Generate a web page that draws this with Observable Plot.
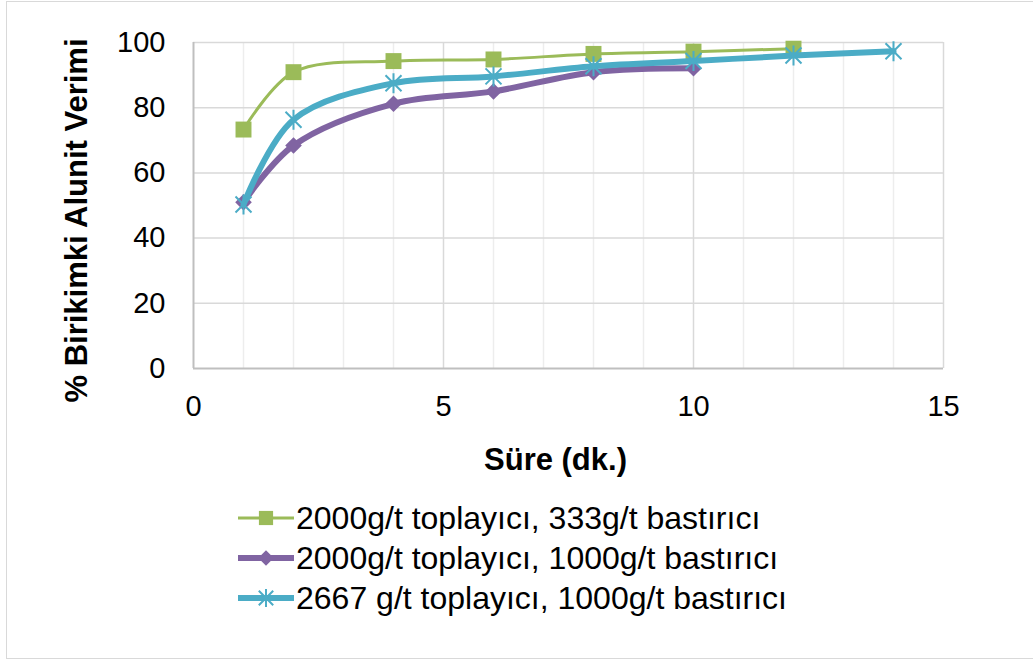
<!DOCTYPE html>
<html>
<head>
<meta charset="utf-8">
<script src="https://cdn.jsdelivr.net/npm/d3@7"></script>
<script src="https://cdn.jsdelivr.net/npm/@observablehq/plot@0.6"></script>
<style>
  html, body { margin: 0; padding: 0; background: #fff; }
  body { width: 1033px; height: 663px; position: relative; overflow: hidden; font-family: "Liberation Sans", Arial, sans-serif; }
  #frame { position: absolute; left: 6px; top: 1px; width: 1040px; height: 658px; border: 1.5px solid #d9d9d9; box-sizing: border-box; }
  #chart { position: absolute; left: 0; top: 0; }
  #legend { position: absolute; left: 238px; top: 498px; }
  .row { display: flex; align-items: center; height: 40px; white-space: nowrap; }
  .row svg { flex: none; }
  .row span { font-size: 32px; color: #000; margin-left: 2px; line-height: 1; }
</style>
</head>
<body>
<div id="frame"></div>
<div id="chart"></div>
<div id="legend"></div>
<script>
// ---- data ----
const timeA = [1, 2, 4, 6, 8, 10, 12];
const valuesA = [73.3, 90.9, 94.3, 94.8, 96.5, 97.2, 98.1];
const timeB = [1, 2, 4, 6, 8, 10];
const valuesB = [51.0, 68.4, 81.2, 85.0, 90.9, 92.1];
const timeC = [1, 2, 4, 6, 8, 10, 12, 14];
const valuesC = [50.3, 76.3, 87.5, 89.6, 92.7, 94.3, 96.0, 97.3];
const seriesNames = [
  "2000g/t toplayıcı, 333g/t bastırıcı",
  "2000g/t toplayıcı, 1000g/t bastırıcı",
  "2667 g/t toplayıcı, 1000g/t bastırıcı"
];
const xTicks = [0, 5, 10, 15];
const xMinor = [1, 2, 3, 4, 6, 7, 8, 9, 11, 12, 13, 14];
const yTicks = [0, 20, 40, 60, 80, 100];
const xTitle = "Süre (dk.)";
const yTitle = "% Birikimki Alunit Verimi";
const colors = ["#9BBB59", "#8064A2", "#4BACC6"];

const A = timeA.map((t, i) => ({t, v: valuesA[i]}));
const B = timeB.map((t, i) => ({t, v: valuesB[i]}));
const C = timeC.map((t, i) => ({t, v: valuesC[i]}));

// Excel-style star marker: an X plus a vertical bar
const excelStar = {
  draw(context, size) {
    const r = Math.sqrt(size / Math.PI);
    const d = r * 0.8;
    context.moveTo(0, -r); context.lineTo(0, r);
    context.moveTo(-d, -d); context.lineTo(d, d);
    context.moveTo(-d, d); context.lineTo(d, -d);
  }
};

const plot = Plot.plot({
  width: 1033,
  height: 490,
  marginLeft: 193,
  marginRight: 90,
  marginTop: 42,
  marginBottom: 122,
  style: {fontFamily: "'Liberation Sans', Arial, sans-serif", background: "transparent"},
  x: {domain: [0, 15], ticks: xTicks, label: null},
  y: {domain: [0, 100], ticks: yTicks, label: null},
  marks: [
    Plot.ruleX(xMinor, {stroke: "#ededed", strokeWidth: 1.5}),
    Plot.ruleX(xTicks.slice(1), {stroke: "#d9d9d9", strokeWidth: 1.5}),
    Plot.ruleY(yTicks.slice(1), {stroke: "#d9d9d9", strokeWidth: 1.5}),
    Plot.ruleX([0], {stroke: "#bfbfbf", strokeWidth: 2}),
    Plot.ruleY([0], {stroke: "#bfbfbf", strokeWidth: 2}),
    Plot.axisX({ticks: xTicks, tickSize: 0, tickPadding: 27, fontSize: 29, label: null, fill: "#000"}),
    Plot.axisY({ticks: yTicks, tickSize: 0, tickPadding: 28, fontSize: 29, label: null, fill: "#000"}),
    Plot.text([xTitle], {text: d => d, frameAnchor: "bottom", dy: 92, dx: -13, lineAnchor: "middle", textAnchor: "middle", fontSize: 31, fontWeight: "bold", fill: "#000"}),
    Plot.text([yTitle], {text: d => d, frameAnchor: "left", rotate: -90, dx: -116, dy: 15, lineAnchor: "middle", textAnchor: "middle", fontSize: 31, fontWeight: "bold", fill: "#000"}),
    Plot.line(A, {x: "t", y: "v", stroke: colors[0], strokeWidth: 3, curve: "catmull-rom"}),
    Plot.dot(A, {x: "t", y: "v", symbol: "square", r: 9, fill: colors[0], stroke: "none"}),
    Plot.line(B, {x: "t", y: "v", stroke: colors[1], strokeWidth: 6, curve: "catmull-rom"}),
    Plot.dot(B, {x: "t", y: "v", symbol: "diamond2", r: 7.5, fill: colors[1], stroke: "none"}),
    Plot.line(C, {x: "t", y: "v", stroke: colors[2], strokeWidth: 6, curve: "catmull-rom"}),
    Plot.dot(C, {x: "t", y: "v", symbol: excelStar, r: 10, stroke: colors[2], strokeWidth: 2, fill: "none"})
  ]
});
document.getElementById("chart").appendChild(plot);

// ---- legend ----
const legend = d3.select("#legend");
const lw = [3, 6, 6];
seriesNames.forEach((name, i) => {
  const row = legend.append("div").attr("class", "row");
  const s = row.append("svg").attr("width", 56).attr("height", 24);
  s.append("line").attr("x1", 0).attr("x2", 56).attr("y1", 12).attr("y2", 12)
    .attr("stroke", colors[i]).attr("stroke-width", lw[i]);
  const sym = [d3.symbolSquare, d3.symbolDiamond2, excelStar][i];
  const size = [Math.PI * 64, Math.PI * 49, Math.PI * 81][i];
  s.append("path").attr("transform", "translate(28,12)")
    .attr("d", d3.symbol(sym, size)())
    .attr("fill", i === 2 ? "none" : colors[i])
    .attr("stroke", i === 2 ? colors[i] : "none")
    .attr("stroke-width", 2);
  row.append("span").text(name);
});
</script>
</body>
</html>
